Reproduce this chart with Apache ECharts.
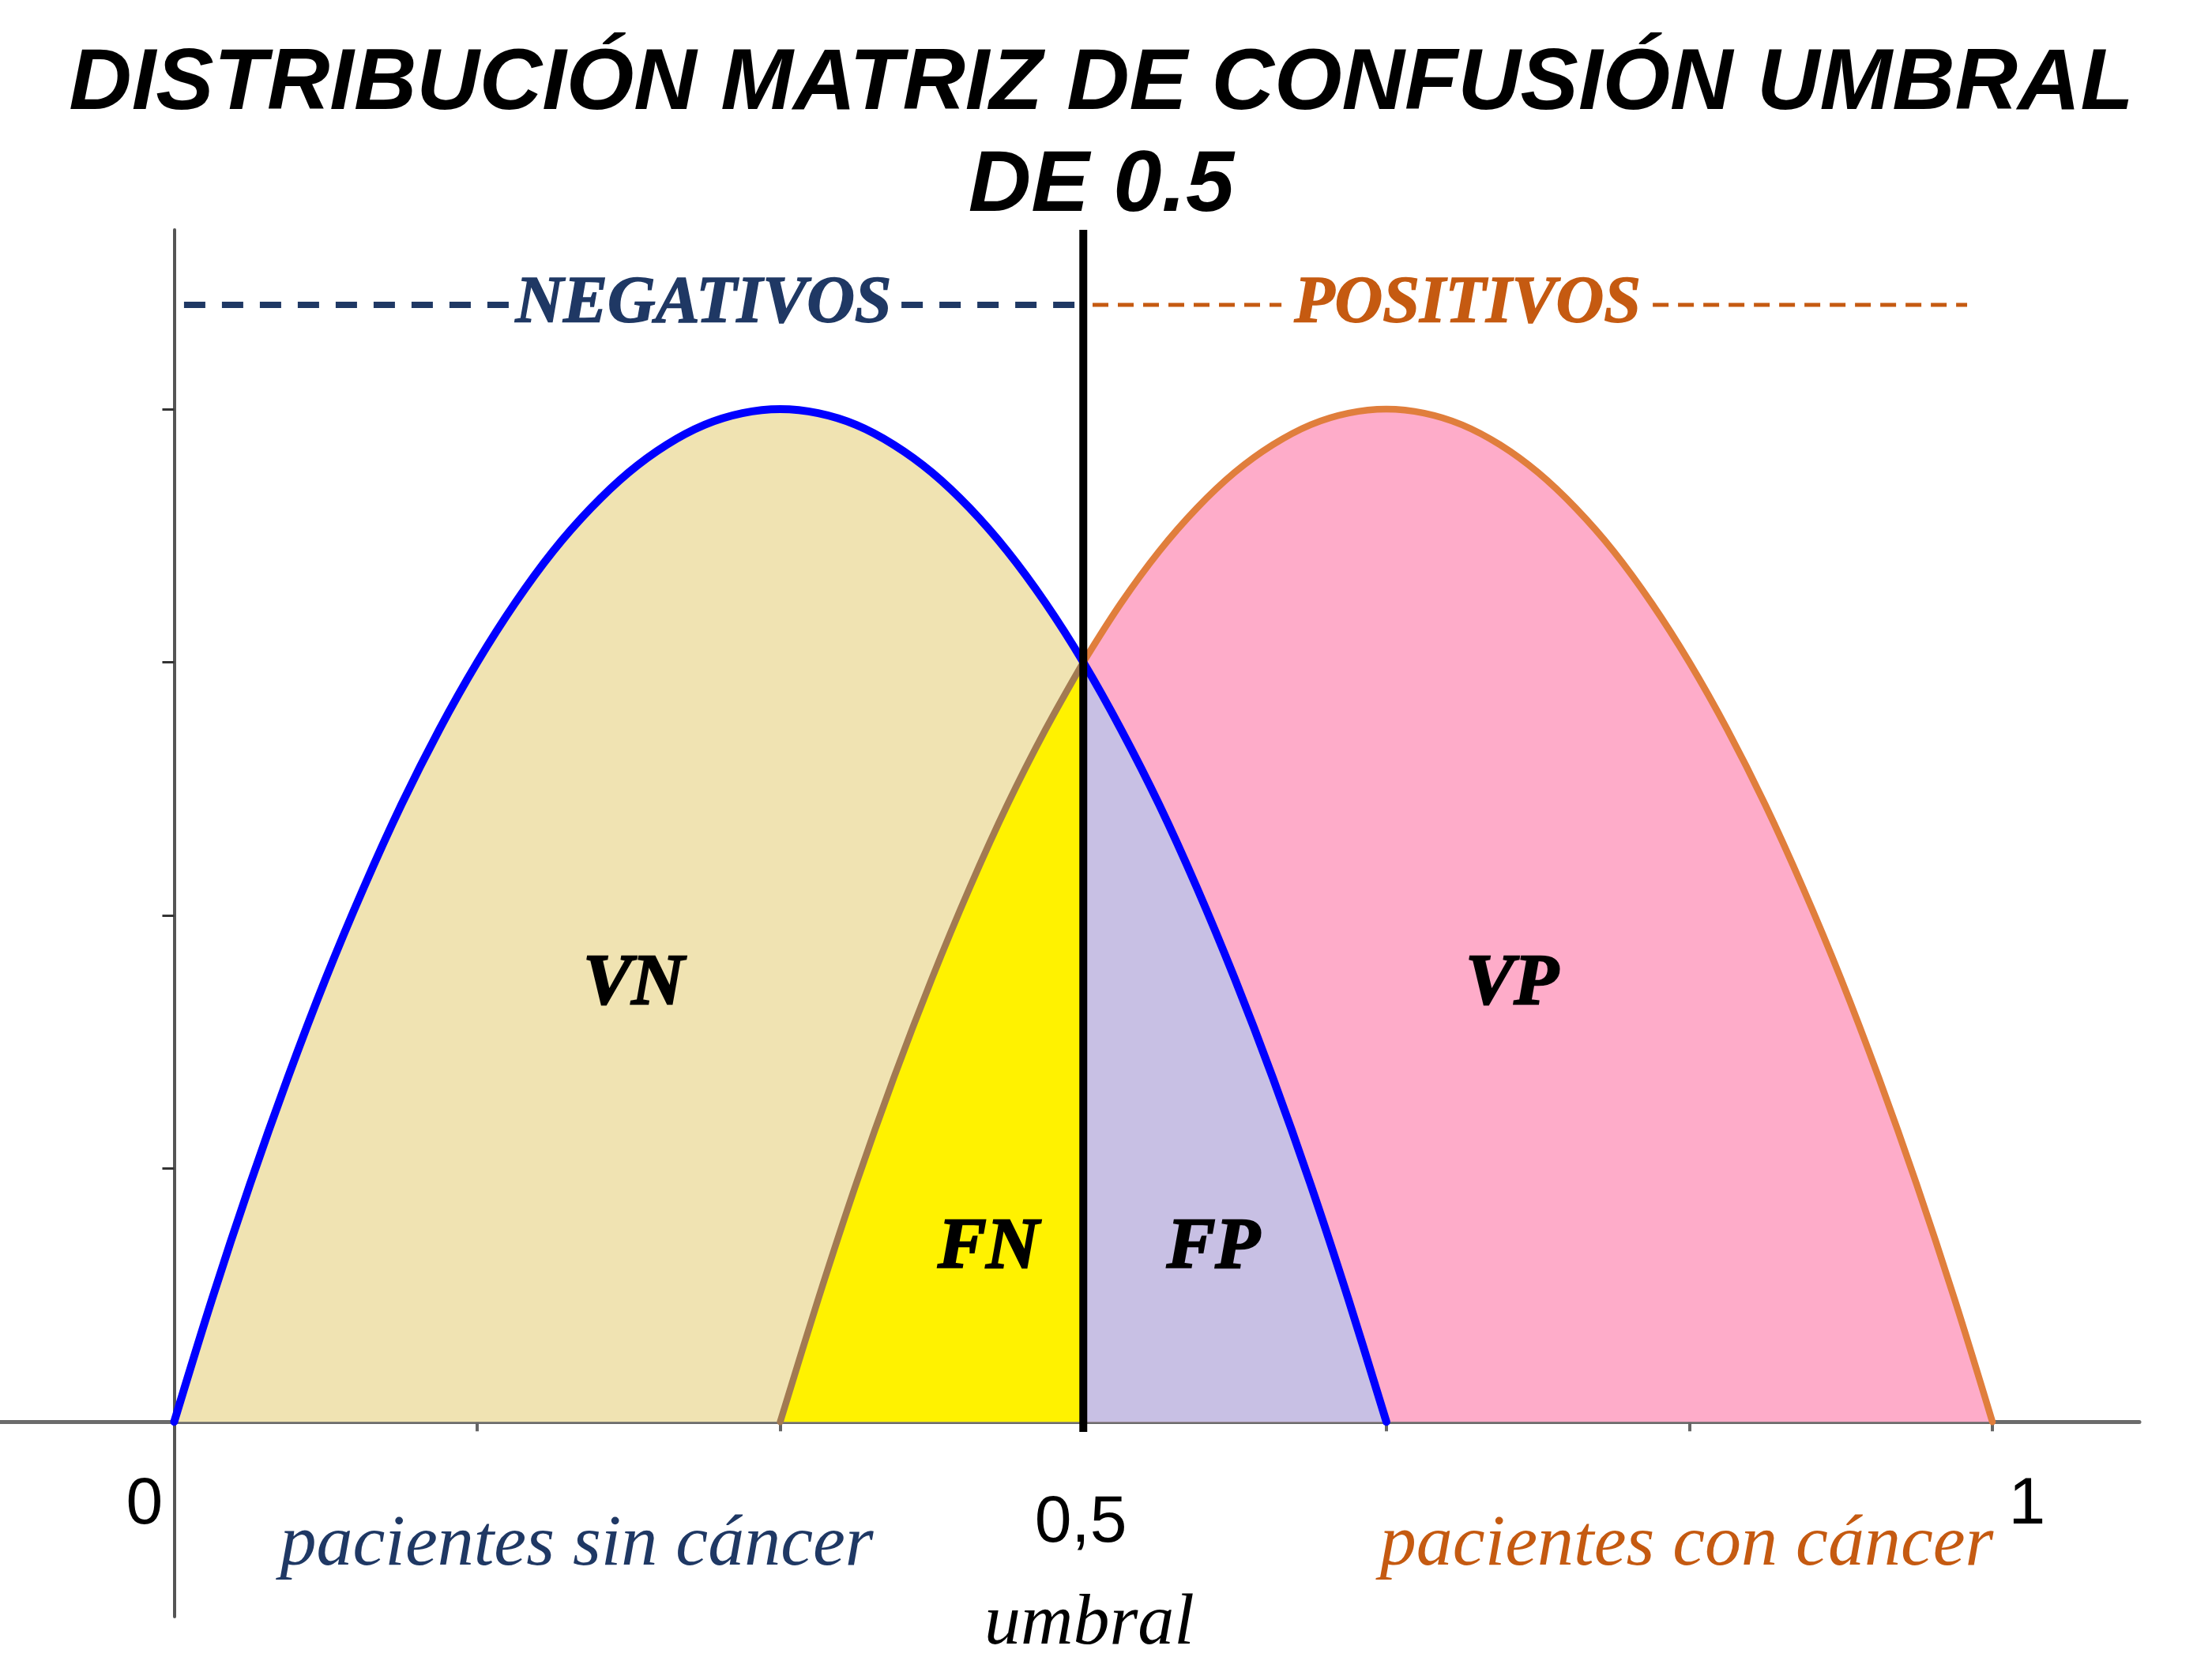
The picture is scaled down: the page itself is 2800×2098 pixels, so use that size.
<!DOCTYPE html>
<html><head><meta charset="utf-8">
<script src="https://cdn.jsdelivr.net/npm/echarts/dist/echarts.min.js"></script>
<style>html,body{margin:0;padding:0;background:#fff}#c{width:2800px;height:2098px}</style>
</head><body><div id="c"></div>
<script>
// ---- data ----
const titleText = 'DISTRIBUCIÓN MATRIZ DE CONFUSIÓN UMBRAL\nDE 0.5';
// negatives distribution (blue)
const blueX = [0, 0.0208, 0.0417, 0.0625, 0.0833, 0.1042, 0.125, 0.1458, 0.1667, 0.1875, 0.2083, 0.2292, 0.25, 0.2708, 0.2917, 0.3125, 0.3333, 0.3542, 0.375, 0.3958, 0.4167, 0.4375, 0.4583, 0.4792, 0.5, 0.5208, 0.5417, 0.5625, 0.5833, 0.6042, 0.625, 0.6458, 0.6667];
const blueY = [0, 0.484, 0.938, 1.359, 1.75, 2.109, 2.438, 2.734, 3, 3.234, 3.438, 3.609, 3.75, 3.859, 3.938, 3.984, 4, 3.984, 3.938, 3.859, 3.75, 3.609, 3.438, 3.234, 3, 2.734, 2.438, 2.109, 1.75, 1.359, 0.938, 0.484, 0];
// positives distribution (orange)
const orangeX = [0.3333, 0.3542, 0.375, 0.3958, 0.4167, 0.4375, 0.4583, 0.4792, 0.5, 0.5208, 0.5417, 0.5625, 0.5833, 0.6042, 0.625, 0.6458, 0.6667, 0.6875, 0.7083, 0.7292, 0.75, 0.7708, 0.7917, 0.8125, 0.8333, 0.8542, 0.875, 0.8958, 0.9167, 0.9375, 0.9583, 0.9792, 1];
const orangeY = [0, 0.484, 0.938, 1.359, 1.75, 2.109, 2.438, 2.734, 3, 3.234, 3.438, 3.609, 3.75, 3.859, 3.938, 3.984, 4, 3.984, 3.938, 3.859, 3.75, 3.609, 3.438, 3.234, 3, 2.734, 2.438, 2.109, 1.75, 1.359, 0.938, 0.484, 0];
const threshold = 0.5;
const xTickValues = [1/6, 2/6, 3/6, 4/6, 5/6, 1];
const yTickValues = [1, 2, 3, 4];
const xTickLabelValues = [0, 0.5, 1];
const xTickLabels = ['0', '0,5', '1'];
const regionLabels = ['VN', 'FN', 'FP', 'VP'];
const classLabels = ['NEGATIVOS', 'POSITIVOS'];
const groupLabels = ['pacientes sin cáncer', 'pacientes con cáncer'];
const thresholdLabel = 'umbral';

// ---- build ----
const X_MIN = -0.0958, X_MAX = 1.0808, Y_MIN = -0.77, Y_MAX = 4.708;
const SMOOTH = 0.35;
const pairs = (xs, ys) => xs.map((x, i) => [x, ys[i]]);
const blue = pairs(blueX, blueY);
const orange = pairs(orangeX, orangeY);
const le = (arr, t) => arr.filter(p => p[0] <= t + 1e-9);
const ge = (arr, t) => arr.filter(p => p[0] >= t - 1e-9);

const NAVY = '#1F3864', ORANGE_TXT = '#C55A11';

function area(data, color) {
  return { type: 'line', data, smooth: SMOOTH, showSymbol: false, silent: true,
    lineStyle: { width: 0 }, areaStyle: { color, opacity: 1 } };
}
function curve(data, color, width) {
  return { type: 'line', data, smooth: SMOOTH, showSymbol: false, silent: true,
    lineStyle: { color, width, cap: 'round', join: 'round' } };
}
function dashed(x0, x1, y, color, width, dash) {
  return { type: 'line', data: [[x0, y], [x1, y]], showSymbol: false, silent: true,
    lineStyle: { color, width, type: dash } };
}

const serifBI = { fontFamily: 'Liberation Serif', fontStyle: 'italic', fontWeight: 'bold' };
const labelItems = [];
function addLabel(x, y, text, style) {
  labelItems.push({ value: [x, y], label: Object.assign({ show: true, position: 'inside', formatter: text,
    opacity: 1, textBorderWidth: 0, textShadowBlur: 0 }, style) });
}
const regionPos = [[0.2527, 1.725], [0.4478, 0.683], [0.5715, 0.683], [0.7358, 1.725]];
regionLabels.forEach((t, i) => addLabel(regionPos[i][0], regionPos[i][1], t,
  Object.assign({ fontSize: 92, color: '#000', textBorderColor: '#000', textBorderWidth: 2.5 }, serifBI)));
const classPos = [[0.2911, 4.412], [0.7113, 4.412]];
const classCol = [NAVY, ORANGE_TXT];
classLabels.forEach((t, i) => addLabel(classPos[i][0], classPos[i][1], t,
  Object.assign({ fontSize: 84, color: classCol[i], textBorderColor: classCol[i], textBorderWidth: 1.5 }, serifBI)));
const groupPos = [[0.2214, -0.49], [0.8319, -0.49]];
groupLabels.forEach((t, i) => addLabel(groupPos[i][0], groupPos[i][1], t,
  { fontSize: 92, color: classCol[i], fontFamily: 'Liberation Serif', fontStyle: 'italic' }));
addLabel(0.5033, -0.80, thresholdLabel,
  { fontSize: 92, color: '#000', fontFamily: 'Liberation Serif', fontStyle: 'italic' });
const tickLabelPos = [[-0.0163, -0.33], [0.4986, -0.40], [1.019, -0.33]];
xTickLabels.forEach((t, i) => addLabel(tickLabelPos[i][0], tickLabelPos[i][1], t,
  { fontSize: 84, color: '#000', fontFamily: 'Liberation Sans' }));

const option = {
  animation: false,
  backgroundColor: '#ffffff',
  title: {
    text: titleText, left: 1394, top: 43, padding: 0, textAlign: 'center',
    textStyle: { fontFamily: 'Liberation Sans', fontWeight: 'bold', fontStyle: 'italic',
      fontSize: 110, lineHeight: 129, color: '#000' }
  },
  grid: { left: 0, right: 92, top: 291, bottom: 51, containLabel: false },
  xAxis: {
    type: 'value', min: X_MIN, max: X_MAX,
    axisLine: { show: true, onZero: true, lineStyle: { color: '#6b6b6b', width: 5 } },
    axisTick: { show: true, inside: false, length: 12, customValues: xTickValues,
      lineStyle: { color: '#666', width: 4 } },
    axisLabel: { show: false }, splitLine: { show: false }
  },
  yAxis: {
    type: 'value', min: Y_MIN, max: Y_MAX,
    axisLine: { show: true, onZero: true, lineStyle: { color: '#555', width: 4 } },
    axisTick: { show: true, inside: false, length: 15, customValues: yTickValues,
      lineStyle: { color: '#333', width: 3 } },
    axisLabel: { show: false }, splitLine: { show: false }
  },
  series: [
    area(le(blue, threshold), '#F0E3B2'),
    area(le(orange, threshold), '#FFF200'),
    area(ge(orange, threshold), '#FEACC9'),
    area(ge(blue, threshold), '#C8C0E4'),
    curve(le(orange, threshold), '#A27A52', 8.5),
    curve(ge(orange, threshold), '#E07E3C', 8.5),
    curve(blue, '#0000FF', 10),
    { type: 'line', data: [[threshold, -0.04], [threshold, Y_MAX]], showSymbol: false, silent: true,
      lineStyle: { color: '#000', width: 10 } },
    dashed(0.0054, 0.1840, 4.412, NAVY, 8, [27, 21]),
    dashed(0.4000, 0.4956, 4.412, NAVY, 8, [27, 21]),
    dashed(0.5051, 0.6090, 4.412, ORANGE_TXT, 5, [20, 12]),
    dashed(0.8132, 0.9861, 4.412, ORANGE_TXT, 5, [20, 12]),
    { type: 'scatter', data: labelItems, symbolSize: 0, clip: false, silent: true,
      itemStyle: { color: 'rgba(0,0,0,0)', opacity: 1 }, z: 10 }
  ]
};
const chart = echarts.init(document.getElementById('c'), null, { renderer: 'canvas' });
chart.setOption(option);
</script>
</body></html>
